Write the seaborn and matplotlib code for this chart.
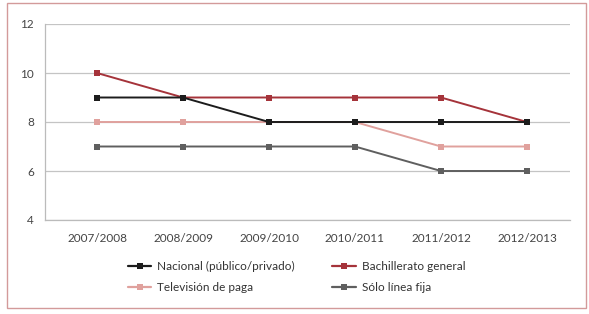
import matplotlib
matplotlib.use("Agg")
import matplotlib.pyplot as plt
import seaborn as sns
import pandas as pd
from matplotlib.patches import Rectangle
from matplotlib.lines import Line2D

categories = ["2007/2008", "2008/2009", "2009/2010", "2010/2011", "2011/2012", "2012/2013"]
nacional = [9, 9, 8, 8, 8, 8]
bachillerato = [10, 9, 9, 9, 9, 8]
television = [8, 8, 8, 8, 7, 7]
linea_fija = [7, 7, 7, 7, 6, 6]
series_names = ["Nacional (público/privado)", "Bachillerato general", "Televisión de paga", "Sólo línea fija"]
y_ticks = [4, 6, 8, 10, 12]

colors = {
    series_names[0]: "#1c1c1c",
    series_names[1]: "#a5333a",
    series_names[2]: "#e0a19d",
    series_names[3]: "#5f5f5f",
}

rows = []
for name, vals in zip(series_names, [nacional, bachillerato, television, linea_fija]):
    for i, (c, v) in enumerate(zip(categories, vals)):
        rows.append({"Periodo": c, "x": i, "Valor": v, "Serie": name})
df = pd.DataFrame(rows)

sns.set_style("white")
plt.rcParams["font.family"] = ["Lato", "DejaVu Sans"]

fig = plt.figure(figsize=(5.89, 3.14), dpi=100)
ax = fig.add_axes([45 / 589, 1 - 220 / 314, (570 - 45) / 589, (220 - 24) / 314])

draw_order = [series_names[3], series_names[2], series_names[1], series_names[0]]
for name in draw_order:
    sub = df[df["Serie"] == name]
    sns.lineplot(data=sub, x="x", y="Valor", ax=ax, color=colors[name], marker="s",
                 markersize=5, markeredgewidth=0, linewidth=1.4, label=name, legend=False)

step = (570 - 97) / 5.5
ax.set_xlim(-0.5 - (97 - 45 - step / 2) / step, len(categories) - 0.5)
ax.set_ylim(4, 12)
ax.set_yticks(y_ticks)
ax.set_xticks(range(len(categories)))
ax.set_xticklabels(categories)
ax.set_xticks([i + 0.5 for i in range(len(categories))], minor=True)
ax.tick_params(axis="x", which="major", length=0, pad=9, labelsize=8.5, colors="#444444")
ax.tick_params(axis="x", which="minor", length=5, width=0.8, color="#bbbbbb", direction="out")
ax.tick_params(axis="y", length=4, width=0.8, color="#bbbbbb", labelsize=8.5, colors="#444444", pad=4)
ax.yaxis.grid(True, color="#c4c4c4", linewidth=0.9)
ax.set_axisbelow(True)
for s in ["top", "right"]:
    ax.spines[s].set_visible(False)
for s in ["left", "bottom"]:
    ax.spines[s].set_color("#bbbbbb")
    ax.spines[s].set_linewidth(0.9)
ax.set_xlabel("")
ax.set_ylabel("")

handles = [Line2D([], [], color=colors[n], marker="s", markersize=4, markeredgewidth=0, linewidth=1.6)
           for n in series_names]
order = [0, 2, 1, 3]
leg = fig.legend([handles[i] for i in order], [series_names[i] for i in order],
                 ncol=2, loc="center", bbox_to_anchor=(296.5 / 589, 1 - 277 / 314),
                 frameon=False, fontsize=8.5, handlelength=2.0, handletextpad=0.5,
                 columnspacing=3.15, labelspacing=0.8)
for t in leg.get_texts():
    t.set_color("#333333")

fig.patches.append(Rectangle((7 / 589, 1 - 308 / 314), (586 - 7) / 589, (308 - 3) / 314,
                             transform=fig.transFigure, fill=False, edgecolor="#d39a9a",
                             linewidth=1.0))

fig.savefig("out.png", dpi=100)
